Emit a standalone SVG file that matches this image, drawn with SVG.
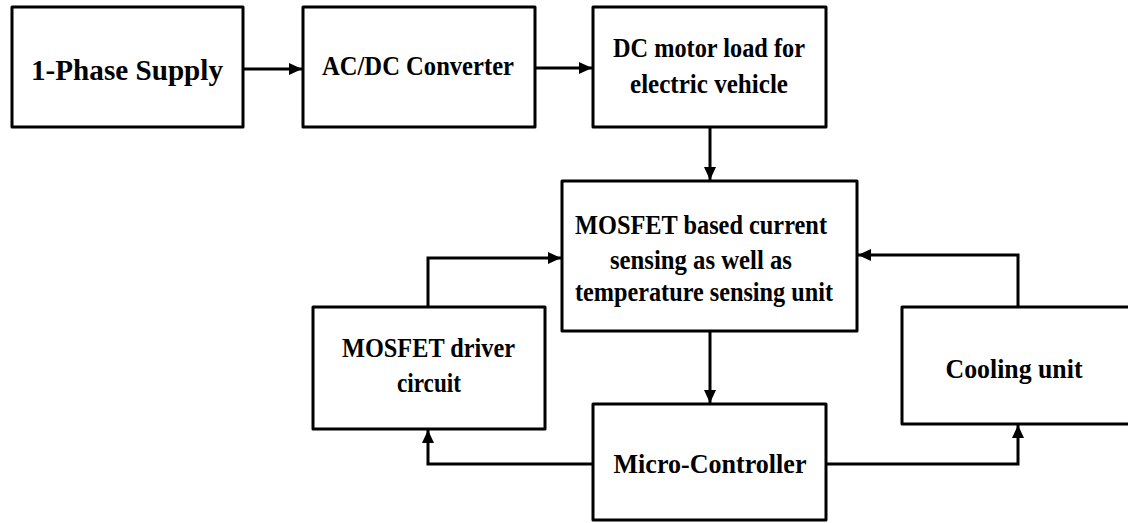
<svg xmlns="http://www.w3.org/2000/svg" width="1128" height="523" viewBox="0 0 1128 523">
<style>
.box{fill:#fff;stroke:#000;stroke-width:3;stroke-linejoin:round}
.lbl{font-family:"Liberation Serif","Times New Roman",serif;font-weight:bold;fill:#000;text-anchor:middle;font-size:27px}
.con{fill:none;stroke:#000;stroke-width:3;marker-end:url(#ah)}
</style>
<defs>
<marker id="ah" viewBox="0 0 13 12" refX="13" refY="6" markerWidth="13" markerHeight="12" markerUnits="userSpaceOnUse" orient="auto">
<path d="M0,0 L13,6 L0,12 z" fill="#000"/>
</marker>
</defs>
<rect width="1128" height="523" fill="#fff"/>
<g id="connectors">
<path class="con" d="M243,69 L302,69"/>
<path class="con" d="M535,68 L592,68"/>
<path class="con" d="M710,127 L710,180"/>
<path class="con" d="M428,307 L428,258 L561,258"/>
<path class="con" d="M1018,307 L1018,255 L858,255"/>
<path class="con" d="M710,331 L710,403"/>
<path class="con" d="M593,464 L428,464 L428,430"/>
<path class="con" d="M826,464 L1018,464 L1018,425"/>
</g>
<g id="supply">
<rect class="box" x="12" y="7" width="231" height="120"/>
<text class="lbl" x="127" y="80" style="font-size:29px" textLength="192" lengthAdjust="spacingAndGlyphs">1-Phase Supply</text>
</g>
<g id="converter">
<rect class="box" x="303" y="7" width="232" height="120"/>
<text class="lbl" x="418" y="75" style="font-size:27px" textLength="192" lengthAdjust="spacingAndGlyphs">AC/DC Converter</text>
</g>
<g id="motor">
<rect class="box" x="593" y="7" width="233" height="120"/>
<text class="lbl" x="709" y="57" style="font-size:27px" textLength="192" lengthAdjust="spacingAndGlyphs">DC motor load for</text>
<text class="lbl" x="709" y="93" style="font-size:27px" textLength="158" lengthAdjust="spacingAndGlyphs">electric vehicle</text>
</g>
<g id="sensing">
<rect class="box" x="562" y="181" width="295" height="150"/>
<text class="lbl" x="701" y="234" textLength="252" lengthAdjust="spacingAndGlyphs">MOSFET based current</text>
<text class="lbl" x="701" y="269" textLength="182" lengthAdjust="spacingAndGlyphs">sensing as well as</text>
<text class="lbl" x="704" y="301" textLength="258" lengthAdjust="spacingAndGlyphs">temperature sensing unit</text>
</g>
<g id="driver">
<rect class="box" x="313" y="307" width="232" height="122"/>
<text class="lbl" x="428.5" y="357" textLength="173" lengthAdjust="spacingAndGlyphs">MOSFET driver</text>
<text class="lbl" x="429" y="392" textLength="64" lengthAdjust="spacingAndGlyphs">circuit</text>
</g>
<g id="cooling">
<rect class="box" x="902" y="307" width="240" height="117"/>
<text class="lbl" x="1014" y="378" textLength="137" lengthAdjust="spacingAndGlyphs">Cooling unit</text>
</g>
<g id="micro">
<rect class="box" x="593" y="404" width="233" height="116"/>
<text class="lbl" x="710" y="473" textLength="193" lengthAdjust="spacingAndGlyphs">Micro-Controller</text>
</g>
</svg>
